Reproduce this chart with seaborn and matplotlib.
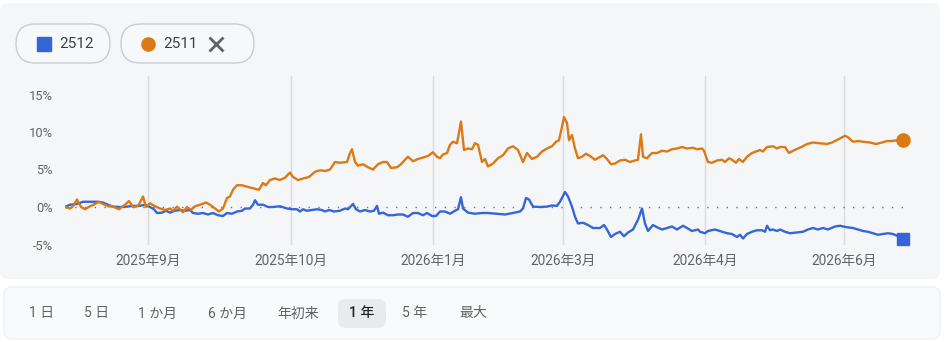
import matplotlib
matplotlib.use("Agg")
import matplotlib.pyplot as plt
from matplotlib.patches import FancyBboxPatch
import seaborn as sns
import pandas as pd

# ---------------- data ----------------
series_names = ["2512", "2511"]

# day position (trading-day scale) and % change vs. start
orange_day = [0, 5, 8, 12, 16, 20, 25, 30, 34, 38, 43, 48, 54, 60, 64, 68, 73, 78, 81, 85,
              90, 95, 100, 105, 108, 112, 118, 122, 126, 130, 135, 141, 145, 150, 154, 158,
              162, 165, 168, 172, 177, 182, 188, 194, 198, 201, 205, 210, 215, 220, 225, 228,
              233, 238, 244, 250, 255, 260, 265, 270, 275, 282, 285, 287, 290, 293, 298, 303,
              308, 313, 318, 322, 326, 332, 336, 340, 343, 348, 353, 358, 363, 368, 372, 375,
              378, 382, 385, 388, 392, 396, 399, 403, 407, 410, 413, 417, 420, 423, 428, 433,
              438, 443, 448, 453, 458, 462, 467, 472, 477, 482, 487, 491, 494, 497, 499, 502,
              504, 507, 510, 513, 517, 521, 525, 530, 534, 538, 542, 546, 550, 555, 560, 565,
              570, 573, 576, 578, 582, 587, 592, 597, 602, 607, 612, 617, 622, 628, 632, 637,
              639, 643, 647, 652, 657, 660, 664, 667, 671, 674, 678, 682, 687, 691, 695, 698,
              702, 708, 712, 715, 720, 724, 728, 733, 738, 742, 748, 755, 762, 767, 773, 780,
              783, 788, 793, 798, 805, 811, 817, 822, 827, 832, 838]
orange_pct = [0.0, -0.2, 0.1, 1.0, 0.0, -0.3, 0.1, 0.4, 0.7, 0.4, 0.1, 0.05, -0.3, 0.3, 0.8, 0.0,
              0.1, 1.4, 0.0, 0.5, 0.1, -0.2, -0.4, -0.2, -0.5, 0.05, -0.7, 0.0, -0.4, 0.1, 0.3,
              0.6, 0.3, -0.2, -0.6, -0.2, 1.2, 1.4, 2.3, 2.9, 2.9, 2.7, 2.5, 2.3, 3.2, 2.9, 3.6,
              3.8, 3.6, 3.9, 4.6, 4.0, 3.6, 3.8, 4.0, 4.7, 4.9, 4.8, 5.0, 6.0, 5.9, 6.0, 7.2,
              7.7, 6.0, 5.5, 5.7, 5.3, 5.0, 5.7, 6.0, 6.0, 5.2, 5.3, 5.7, 6.3, 6.7, 6.1, 6.4,
              6.6, 6.8, 7.3, 6.7, 6.5, 7.0, 7.2, 8.3, 8.7, 8.5, 11.4, 7.6, 7.8, 7.7, 8.5, 8.3,
              6.0, 6.4, 5.4, 5.8, 6.5, 6.9, 7.8, 8.1, 7.6, 6.0, 7.2, 6.4, 6.7, 7.4, 7.8, 8.1,
              8.7, 8.9, 10.7, 12.0, 11.2, 8.9, 9.6, 7.8, 6.5, 6.7, 7.1, 6.8, 6.3, 6.6, 6.9, 6.4,
              5.7, 5.8, 6.2, 6.3, 6.0, 6.2, 6.3, 9.7, 6.7, 6.5, 7.2, 7.2, 7.5, 7.4, 7.7, 7.8,
              8.0, 7.8, 7.9, 7.7, 7.8, 7.5, 6.0, 5.9, 6.2, 6.3, 6.0, 6.5, 6.3, 5.9, 6.4, 6.0,
              6.7, 7.2, 7.4, 7.6, 7.4, 8.0, 8.1, 7.8, 8.0, 8.0, 7.2, 7.5, 7.8, 8.1, 8.4, 8.6,
              8.5, 8.4, 8.6, 9.0, 9.5, 9.3, 8.7, 8.8, 8.7, 8.6, 8.4, 8.6, 8.8, 8.8, 8.9, 9.0]

blue_day = [0, 5, 12, 18, 25, 32, 38, 43, 48, 55, 62, 68, 75, 80, 85, 89, 92, 97, 101, 105,
            110, 115, 120, 125, 128, 133, 138, 143, 148, 153, 158, 162, 167, 172, 177, 180,
            185, 188, 190, 193, 198, 203, 208, 215, 222, 227, 232, 235, 238, 242, 247, 252,
            257, 260, 264, 269, 275, 280, 283, 288, 291, 295, 300, 305, 309, 312, 314, 318,
            323, 328, 333, 338, 343, 348, 353, 358, 362, 367, 371, 375, 380, 385, 390, 393,
            396, 398, 403, 410, 417, 423, 432, 440, 448, 455, 458, 461, 464, 468, 475, 482,
            487, 492, 495, 500, 503, 507, 510, 513, 518, 523, 528, 535, 539, 542, 546, 550,
            555, 559, 563, 568, 573, 577, 580, 583, 588, 592, 597, 602, 607, 612, 618, 622,
            627, 633, 635, 640, 643, 650, 657, 662, 667, 672, 675, 678, 682, 687, 692, 697,
            700, 702, 705, 708, 712, 715, 720, 725, 732, 738, 743, 748, 753, 758, 763, 770,
            775, 782, 788, 793, 798, 803, 808, 813, 818, 823, 828, 833, 838]
blue_pct = [0.0, 0.3, 0.4, 0.7, 0.7, 0.7, 0.6, 0.3, 0.05, 0.0, 0.05, 0.15, 0.15, 0.3, 0.0,
            -0.3, -0.8, -0.75, -0.5, -0.75, -0.5, -0.4, -0.5, -0.4, -0.8, -0.9, -0.8, -1.0,
            -0.8, -1.1, -1.2, -0.8, -0.9, -0.6, -0.5, -0.2, -0.2, 0.3, 0.9, 0.3, 0.3, 0.0, 0.0,
            0.1, -0.2, -0.3, -0.3, -0.6, -0.3, -0.5, -0.4, -0.3, -0.4, -0.6, -0.4, -0.6, -0.5,
            -0.2, -0.3, 0.4, -0.3, -0.6, -0.4, -0.6, -0.5, 0.15, -0.9, -0.75, -1.1, -1.1, -1.0,
            -1.0, -1.3, -0.8, -0.8, -1.1, -0.8, -1.2, -1.2, -0.6, -0.6, -0.9, -0.5, -0.3, 1.3,
            -0.2, -0.75, -0.9, -0.8, -0.8, -0.9, -1.0, -0.8, -0.6, -0.2, 1.2, 1.0, 0.05, 0.0,
            0.05, 0.2, 0.15, 0.7, 2.0, 1.4, 0.05, -1.3, -2.2, -2.1, -2.4, -2.8, -2.8, -2.4,
            -3.0, -4.0, -3.6, -3.3, -3.9, -3.4, -3.0, -1.7, -0.2, -2.2, -3.2, -2.4, -2.7, -3.0,
            -2.8, -2.6, -3.0, -2.5, -2.8, -3.2, -3.0, -3.3, -3.5, -3.2, -3.0, -3.3, -3.5, -3.6,
            -4.0, -3.7, -4.2, -3.6, -3.3, -3.1, -3.1, -3.3, -2.5, -3.1, -3.0, -3.2, -3.0, -3.3,
            -3.5, -3.4, -3.3, -3.0, -2.8, -3.0, -2.8, -3.0, -2.6, -2.5, -2.7, -2.8, -3.0, -3.2,
            -3.3, -3.5, -3.7, -3.6, -3.5, -3.6, -3.9, -4.2]

month_ticks = [83, 226, 368, 498, 640, 779]
month_labels = ["2025年9月", "2025年10月", "2026年1月", "2026年3月", "2026年4月", "2026年6月"]
y_ticks = [-5, 0, 5, 10, 15]
y_labels = ["-5%", "0%", "5%", "10%", "15%"]
range_buttons = ["1 日", "5 日", "1 か月", "6 か月", "年初来", "1 年", "5 年", "最大"]
selected_button = "1 年"

# ---------------- style ----------------
BLUE = "#3566d8"
ORANGE = "#dc7914"
GREY_TXT = "#5f6368"

sns.set_theme(style="white")
plt.rcParams["font.family"] = ["Roboto", "Noto Sans CJK JP", "DejaVu Sans"]

W, H = 947, 342
fig = plt.figure(figsize=(W / 100, H / 100), dpi=100)
fig.patch.set_facecolor("white")

# background / decoration layer in pixel coordinates (y measured from top)
bg = fig.add_axes([0, 0, 1, 1], zorder=0)
bg.set_xlim(0, W)
bg.set_ylim(0, H)
bg.axis("off")


def Y(y):
    return H - y


# main card
bg.add_patch(FancyBboxPatch((0, Y(279)), 940, 276,
                            boxstyle="round,pad=0,rounding_size=8",
                            fc="#f5f6f8", ec="none"))
# bottom button bar
bg.add_patch(FancyBboxPatch((4, Y(339)), 936, 52,
                            boxstyle="round,pad=0,rounding_size=8",
                            fc="#f9fafb", ec="#eef0f2", lw=1))

# legend pills
bg.add_patch(FancyBboxPatch((16, Y(63)), 94, 39,
                            boxstyle="round,pad=0,rounding_size=19.5",
                            fc="#f7f8fa", ec="#c9ccd1", lw=1))
bg.add_patch(FancyBboxPatch((121, Y(63)), 133, 39,
                            boxstyle="round,pad=0,rounding_size=19.5",
                            fc="#f7f8fa", ec="#c9ccd1", lw=1))
bg.plot([44], [Y(43.5)], marker="s", ms=9.5, color=BLUE, mec=BLUE)
bg.text(59, Y(44), series_names[0], fontsize=11, color="#3c4043", va="center", ha="left")
bg.plot([148], [Y(43.5)], marker="o", ms=9.5, color=ORANGE, mec=ORANGE)
bg.text(163, Y(44), series_names[1], fontsize=11, color="#3c4043", va="center", ha="left")
bg.plot([215.5], [Y(44)], marker="x", ms=10, mew=2, color=GREY_TXT)

# range buttons
btn_x = [42, 97, 158, 227, 298, 362, 415, 473]
for bx, lab in zip(btn_x, range_buttons):
    if lab == selected_button:
        bg.add_patch(FancyBboxPatch((bx - 24, Y(328)), 48, 29,
                                    boxstyle="round,pad=0,rounding_size=8",
                                    fc="#e8eaed", ec="none"))
        bg.text(bx, Y(313.5), lab, fontsize=10, color="#202124", ha="center",
                va="center", fontweight="medium")
    else:
        bg.text(bx, Y(313.5), lab, fontsize=10, color=GREY_TXT, ha="center", va="center")

# ---------------- chart ----------------
left_px, right_px = 65, 903
ymin, ymax = -5.1, 17.5
px_per_pct = 7.5
top_px = 207 - ymax * px_per_pct
bot_px = 207 - ymin * px_per_pct
ax = fig.add_axes([left_px / W, (H - bot_px) / H, (right_px - left_px) / W,
                   (bot_px - top_px) / H], zorder=2)
ax.patch.set_alpha(0)

df = pd.concat([
    pd.DataFrame({"day": blue_day, "pct": blue_pct, "series": series_names[0]}),
    pd.DataFrame({"day": orange_day, "pct": orange_pct, "series": series_names[1]}),
])

ax.axhline(0, color="#70757a", lw=1, dashes=(1, 6), zorder=1)
sns.lineplot(data=df, x="day", y="pct", hue="series", estimator=None,
             palette={series_names[0]: BLUE, series_names[1]: ORANGE},
             linewidth=1.7, legend=False, ax=ax, zorder=3)

# end markers at last values
ax.plot([blue_day[-1]], [blue_pct[-1]], marker="s", ms=9, color=BLUE, clip_on=False, zorder=4)
ax.plot([orange_day[-1]], [orange_pct[-1]], marker="o", ms=9.5, color=ORANGE, clip_on=False, zorder=4)

ax.set_xlim(0, right_px - left_px)
ax.set_ylim(ymin, ymax)
ax.set_xticks(month_ticks)
ax.set_xticklabels(month_labels)
ax.set_yticks(y_ticks)
ax.set_yticklabels(y_labels)
ax.set_xlabel("")
ax.set_ylabel("")
ax.grid(axis="x", color="#dadce0", lw=1)
ax.grid(axis="y", visible=False)
for s in ax.spines.values():
    s.set_visible(False)
ax.tick_params(axis="both", length=0, labelcolor=GREY_TXT)
ax.tick_params(axis="x", pad=6, labelsize=9.8)
ax.tick_params(axis="y", pad=9, labelsize=9.3)

fig.savefig("out.png", dpi=100)
